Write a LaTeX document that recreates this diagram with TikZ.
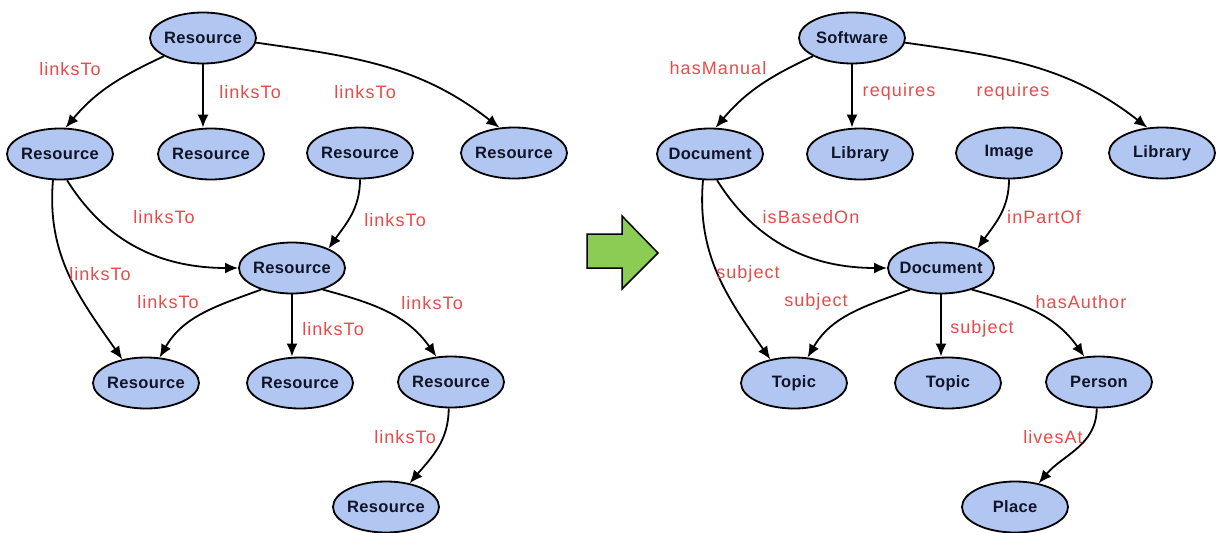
\documentclass[tikz,border=0pt]{standalone}
\usepackage{fontspec}
\setmainfont{Liberation Sans}
\newfontfamily\lblfont[LetterSpace=6]{Liberation Sans}
\newfontfamily\ndfont[LetterSpace=2]{Liberation Sans}
\usetikzlibrary{shapes.geometric,arrows.meta}
\definecolor{nodeblue}{RGB}{178,198,242}
\definecolor{lblred}{RGB}{232,74,74}
\definecolor{nodetext}{RGB}{16,20,40}
\definecolor{arrgreen}{RGB}{138,204,84}
\newcommand{\nt}[1]{\makebox[0pt]{#1}}
\tikzset{
  res/.style={ellipse, draw=black, line width=1.8pt, fill=nodeblue, minimum width=106pt, minimum height=51pt, inner sep=0pt, text=nodetext, font=\ndfont\fontsize{16.5}{19}\selectfont\bfseries},
  lbl/.style={text=lblred, inner sep=0pt, font=\lblfont\fontsize{18}{21}\selectfont},
  edge/.style={-{Latex[length=13pt,width=11pt]}, line width=1.8pt, black},
}
\begin{document}
\begin{tikzpicture}[x=1pt,y=1pt]
\useasboundingbox (0,0) rectangle (1216,-533);
% ---------- left graph
\node[res] (a0) at (203,-38) {\nt{Resource}};
\node[res] (a1) at (60,-154) {\nt{Resource}};
\node[res] (a2) at (211,-154) {\nt{Resource}};
\node[res] (a3) at (360,-153) {\nt{Resource}};
\node[res] (a4) at (514,-153) {\nt{Resource}};
\node[res] (a5) at (292,-268) {\nt{Resource}};
\node[res] (a6) at (146,-383) {\nt{Resource}};
\node[res] (a7) at (300,-383) {\nt{Resource}};
\node[res] (a8) at (451,-382) {\nt{Resource}};
\node[res] (a9) at (386,-507) {\nt{Resource}};
\draw[edge] (a0.205) to[out=205,in=50] (a1.78);
\draw[edge] (a0.south) -- (a0.south |- a2.north);
\draw[edge] (a0.-5) to[out=-8,in=142] (a4.120);
\draw[edge] (a1.-75) to[out=-58,in=180] (a5.west);
\draw[edge] (a1.-105) to[out=-95,in=125] (a6.135);
\draw[edge] (a3.south) to[out=-90,in=55] (a5.28);
\draw[edge] (a5.215) to[out=200,in=60] (a6.62);
\draw[edge] (a5.south) -- (a5.south |- a7.north);
\draw[edge] (a5.-35) to[out=-15,in=125] (a8.120);
\draw[edge] (a8.-95) to[out=-90,in=50] (a9.45);
\node[lbl] (la1) at (70,-69) {linksTo};
\node[lbl] (la2) at (250,-92) {linksTo};
\node[lbl] (la3) at (365,-92) {linksTo};
\node[lbl] (la4) at (164,-217) {linksTo};
\node[lbl] (la5) at (395,-220) {linksTo};
\node[lbl] (la6) at (100,-274) {linksTo};
\node[lbl] (la7) at (168,-302) {linksTo};
\node[lbl] (la8) at (333,-329) {linksTo};
\node[lbl] (la9) at (432,-303) {linksTo};
\node[lbl] (la10) at (405,-437) {linksTo};
% ---------- green arrow
\draw[line width=1.5pt, fill=arrgreen, line join=miter] (587,-234) -- (622,-234) -- (622,-216) -- (658,-253) -- (622,-289) -- (622,-268) -- (587,-268) -- cycle;
% ---------- right graph
\node[res] (b0) at (852,-38) {\nt{Software}};
\node[res] (b1) at (710,-154) {\nt{Document}};
\node[res] (b2) at (860,-154) {\nt{Library}};
\node[res] (b3) at (1009,-153) {\nt{Image}};
\node[res] (b4) at (1162,-153) {\nt{Library}};
\node[res] (b5) at (941,-268) {\nt{Document}};
\node[res] (b6) at (794,-383) {\nt{Topic}};
\node[res] (b7) at (948,-383) {\nt{Topic}};
\node[res] (b8) at (1099,-382) {\nt{Person}};
\node[res] (b9) at (1015,-507) {\nt{Place}};
\draw[edge] (b0.205) to[out=205,in=50] (b1.78);
\draw[edge] (b0.south) -- (b0.south |- b2.north);
\draw[edge] (b0.-5) to[out=-8,in=142] (b4.120);
\draw[edge] (b1.-75) to[out=-58,in=180] (b5.west);
\draw[edge] (b1.-105) to[out=-95,in=125] (b6.135);
\draw[edge] (b3.south) to[out=-90,in=55] (b5.28);
\draw[edge] (b5.215) to[out=200,in=60] (b6.62);
\draw[edge] (b5.south) -- (b5.south |- b7.north);
\draw[edge] (b5.-35) to[out=-15,in=125] (b8.120);
\draw[edge] (b8.-95) to[out=-90,in=50] (b9.45);
\node[lbl] (lb1) at (718,-68) {hasManual};
\node[lbl] (lb2) at (899,-92) {requires};
\node[lbl] (lb3) at (1013,-92) {requires};
\node[lbl] (lb4) at (811,-217) {isBasedOn};
\node[lbl] (lb5) at (1044,-217) {inPartOf};
\node[lbl] (lb6) at (748,-274) {subject};
\node[lbl] (lb7) at (816,-302) {subject};
\node[lbl] (lb8) at (982,-329) {subject};
\node[lbl] (lb9) at (1081,-302) {hasAuthor};
\node[lbl] (lb10) at (1053,-437) {livesAt};
\end{tikzpicture}
\end{document}
